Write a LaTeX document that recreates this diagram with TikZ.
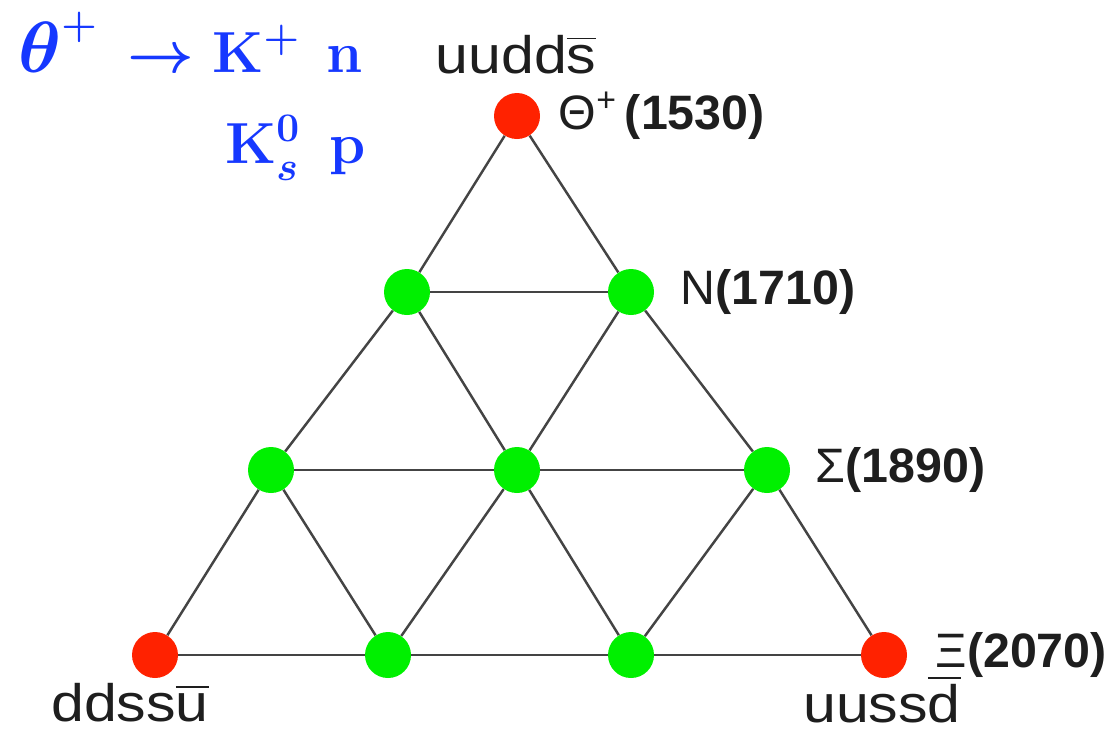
\RequirePackage{fix-cm}
\documentclass[tikz,border=0pt]{standalone}
\usepackage{fontspec}
\usepackage{amsmath}
\newfontfamily\labelfont{Liberation Sans}
\usetikzlibrary{positioning}

\begin{document}
\begin{tikzpicture}[x=0.2mm, y=-0.2mm]
    % Define colours
    \definecolor{lineColour}{HTML}{444444}
    \definecolor{redColour}{HTML}{FF2200}
    \definecolor{greenColour}{HTML}{00F000}
    \definecolor{textColour}{HTML}{1E1E1E}
    \definecolor{blueColour}{HTML}{1638FF}

    \tikzset{
        stateDot/.style={circle, inner sep=0pt, minimum size=9.2mm},
        exoticDot/.style={stateDot, fill=redColour},
        memberDot/.style={stateDot, fill=greenColour},
        linkLine/.style={draw=lineColour, line width=1.4pt},
        quarkLabel/.style={text=textColour, font=\labelfont\fontsize{30}{36}\selectfont, inner sep=0pt},
        massLabel/.style={text=textColour, font=\labelfont\fontsize{27.5}{33}\selectfont, inner sep=0pt},
        decayLabel/.style={text=blueColour, font=\fontsize{33}{40}\selectfont\boldmath, inner sep=0pt}
    }

    % Fix the picture size
    \useasboundingbox (0,0) rectangle (1113,732);

    % Draw the antidecuplet states
    \node[exoticDot] (top) at (517,116) {};
    \node[memberDot] (nl) at (407,292) {};
    \node[memberDot] (nr) at (631,292) {};
    \node[memberDot] (sl) at (271,470) {};
    \node[memberDot] (sm) at (517,470) {};
    \node[memberDot] (sr) at (767,470) {};
    \node[exoticDot] (xl) at (155,655) {};
    \node[memberDot] (xml) at (388,655) {};
    \node[memberDot] (xmr) at (631,655) {};
    \node[exoticDot] (xr) at (884,655) {};

    % Draw the connecting lines
    \foreach \a/\b in {top/nl, nl/sl, sl/xl, top/nr, nr/sr, sr/xr,
                       nl/nr, sl/sm, sm/sr, xl/xml, xml/xmr, xmr/xr,
                       nl/sm, sm/xmr, nr/sm, sm/xml, sl/xml, sr/xmr}
        \draw[linkLine] (\a) -- (\b);

    % Label the states
    \node[massLabel, right=0.36cm of top] (lblTheta) {Θ\textsuperscript{+}\,\textbf{(1530)}};
    \node[massLabel, right=0.52cm of nr] (lblN) {N\textbf{(1710)}};
    \node[massLabel, right=0.5cm of sr] (lblSigma) {Σ\textbf{(1890)}};
    \node[massLabel, right=0.56cm of xr] (lblXi) {Ξ\textbf{(2070)}};

    % Label the quark contents
    \node[quarkLabel, anchor=base, xscale=1.12] (qTop) at (516,73) {uudd$\overline{\mbox{s}}$};
    \node[quarkLabel, anchor=base, xscale=1.12] (qLeft) at (130,721) {ddss$\overline{\mbox{u}}$};
    \node[quarkLabel, anchor=base, xscale=1.12] (qRight) at (882,722) {uuss$\overline{\mbox{d}}$};

    % Decay modes
    \node[decayLabel, anchor=base west] (decayOne) at (18,72)
        {$\scalebox{1.25}{$\theta$}^{+}\,\rightarrow\mathbf{K}^{+}\mkern7mu\mathbf{n}$};
    \node[decayLabel, anchor=base west] (decayTwo) at (225,163) {$\mathbf{K}_{s}^{0}\mkern8mu\mathbf{p}$};

\end{tikzpicture}
\end{document}
